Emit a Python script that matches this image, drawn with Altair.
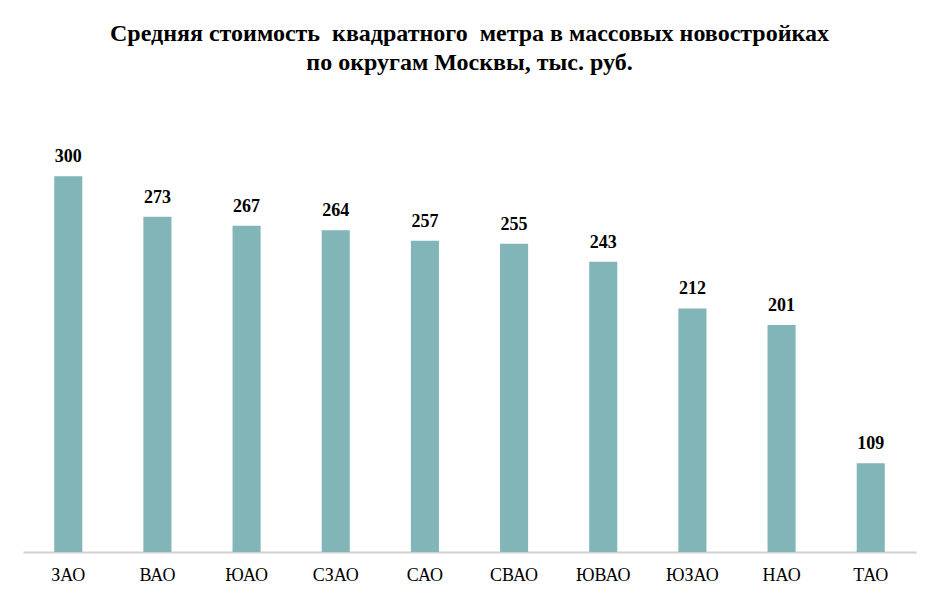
import altair as alt
import pandas as pd

districts = ["ЗАО", "ВАО", "ЮАО", "СЗАО", "САО", "СВАО", "ЮВАО", "ЮЗАО", "НАО", "ТАО"]
prices = [300, 273, 267, 264, 257, 255, 243, 212, 201, 109]
title_lines = ["Средняя стоимость\u00a0 квадратного\u00a0 метра в массовых новостройках",
               "по округам Москвы, тыс. руб."]

df = pd.DataFrame({"district": districts, "price": prices})

FONT = "Liberation Serif"
COLOR = "#82b5b7"

x = alt.X("district:N", sort=districts, title=None,
          scale=alt.Scale(paddingInner=0.685, paddingOuter=0.35),
          axis=alt.Axis(labelAngle=0, labelFont=FONT, labelFontSize=18,
                        labelColor="#000000", labelPadding=14, ticks=False,
                        domainColor="#d0d0d0", domainWidth=2))
y = alt.Y("price:Q", title=None,
          scale=alt.Scale(domain=[50, 350], nice=False, clamp=True),
          axis=None)

bars = alt.Chart(df).mark_bar(color=COLOR).encode(x=x, y=y)
labels = alt.Chart(df).mark_text(font=FONT, fontSize=18, fontWeight="bold",
                                 dy=-19, color="#000000").encode(
    x=x, y=y, text="price:Q")

chart = (bars + labels).properties(
    width=893, height=451,
    autosize=alt.AutoSizeParams(type="none"),
    padding={"left": 15, "top": 93, "right": 16, "bottom": 40},
    title=alt.TitleParams(text=title_lines, font=FONT, fontSize=24,
                          fontWeight="bold", color="#000000",
                          anchor="middle", offset=26, lineHeight=29),
).configure(background="white").configure_view(stroke=None)

chart.save("out.html", embed_options={"renderer": "svg", "actions": False})
